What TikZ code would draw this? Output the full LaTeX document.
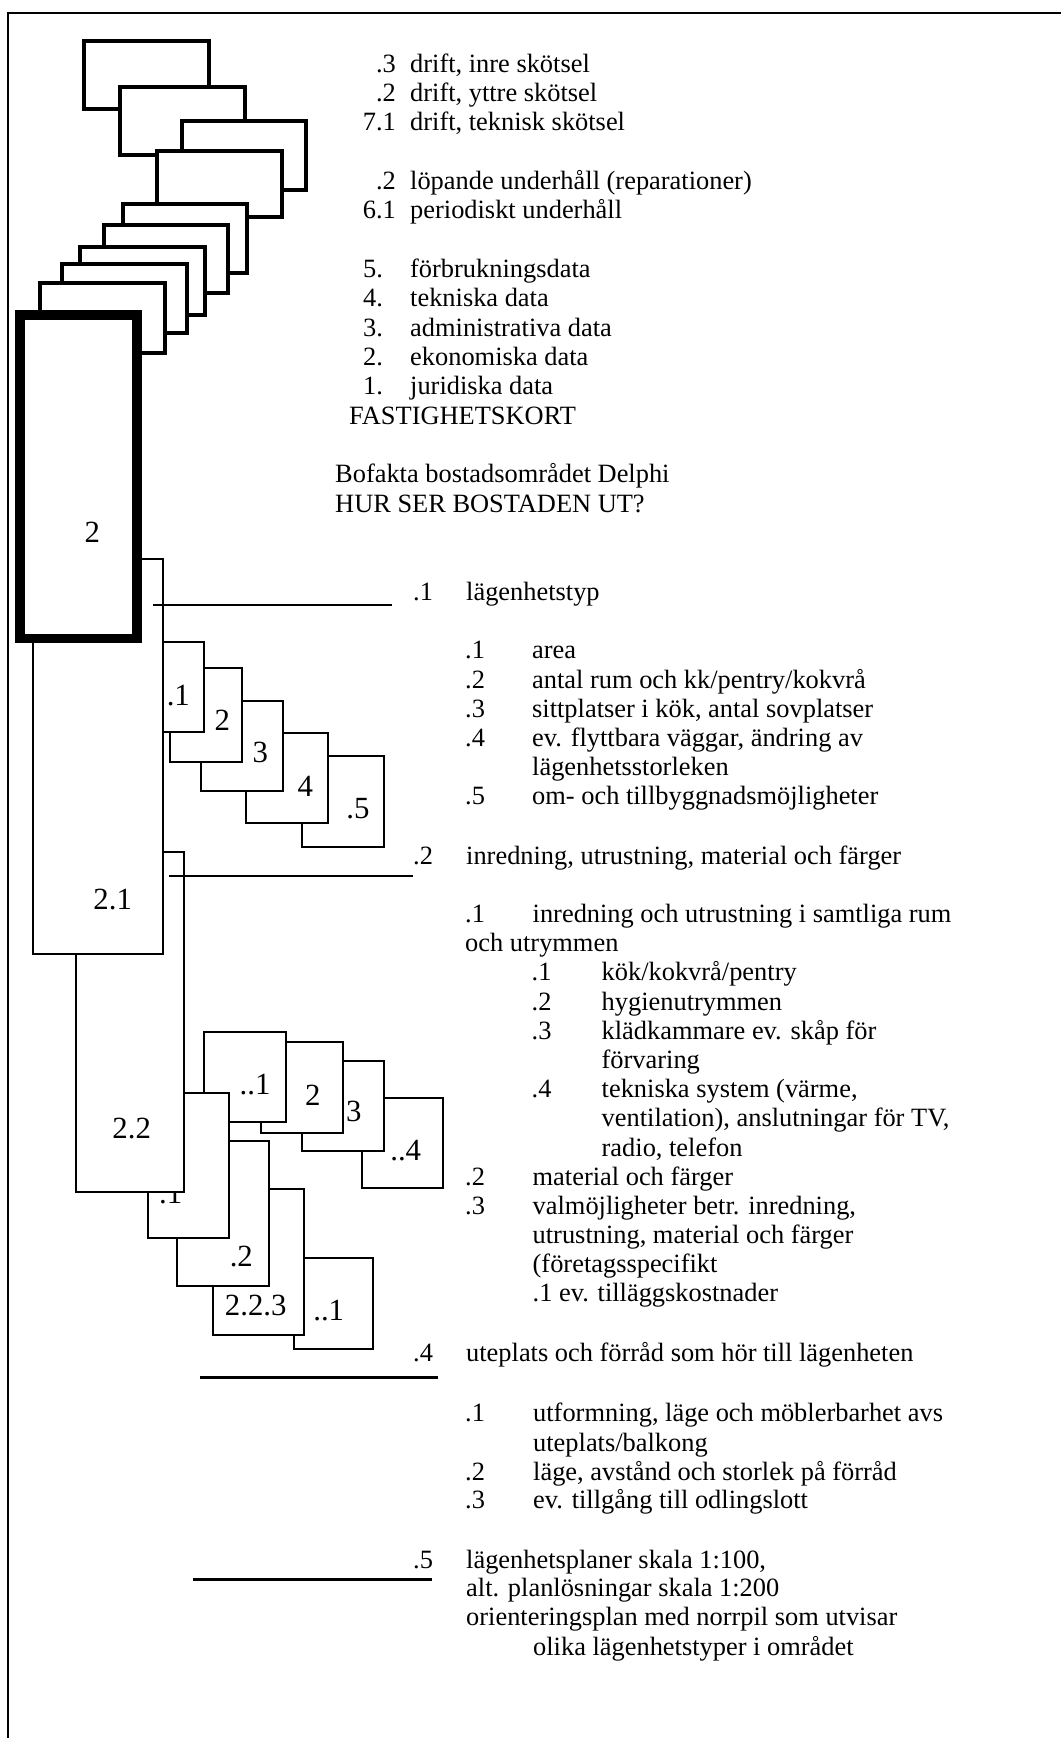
\documentclass[tikz,border=0pt]{standalone}
\usepackage{fontspec}
\setmainfont{Liberation Serif}
\usepackage{tikz}

\tikzset{
  card/.style={draw, fill=white, line width=4.5pt},
  maincard/.style={draw, fill=white, line width=9.5pt},
  leaf/.style={draw, fill=white, line width=2.2pt},
  lead/.style={line width=2.2pt},
  boldlead/.style={line width=3pt},
  txt/.style={anchor=base west, inner sep=0pt, font=\fontsize{26.4}{29}\selectfont},
  num/.style={anchor=base east, inner sep=0pt, font=\fontsize{26.4}{29}\selectfont},
  lbl/.style={anchor=base, inner sep=0pt, font=\fontsize{30.8}{34}\selectfont},
}

\begin{document}
\begin{tikzpicture}[x=1pt, y=-1pt]
\useasboundingbox (0,0) rectangle (1061,1738);

% frame (only top and left edge)
\draw[line width=2pt] (8,1738) -- (8,12.7) -- (1061,12.7);

% card stack 7.x / 6.x / 5. ... 1.
\foreach \xa/\ya/\xb/\yb in {84/41/209/109, 120/87/245/155, 182/121/306/190,
    157/151/282/217, 123/204/247/273, 104/225/228/293,
    80/247/205/315, 62/264/187/333, 40/283/165/353}
    \draw[card] (\xa,\ya) rectangle (\xb,\yb);

% 2.2 subtree, back to front
\foreach \xa/\ya/\xb/\yb/\lx/\ly/\t/\n in {
    294/1258/373/1349/328.7/1320/..1/b2231,
    213/1189/304/1335/255.7/1315.7/2.2.3/b223,
    177/1141/269/1286/241.3/1266.7/.2/b222,
    362/1098/443/1188/405.7/1160.7/..4/b2214,
    302/1061/384/1151/353.7/1121.7/3/b2213,
    261/1042/343/1133/312.7/1105/2/b2212,
    204/1032/286/1122/255/1094/..1/b2211,
    148/1093/229/1238/170.7/1203.3/.1/b221,
    76/852/184/1192/131.7/1138/2.2/b22}{
    \draw[leaf] (\xa,\ya) rectangle (\xb,\yb);
    \node[lbl] (\n) at (\lx,\ly) {\t};
}

% 2.1 subtree, back to front
\foreach \xa/\ya/\xb/\yb/\lx/\ly/\t/\n in {
    302/756/384/847/358/818.3/.5/b215,
    246/733/328/823/305.3/796/4/b214,
    201/701/283/791/260.3/762.7/3/b213,
    170/668/242/762/222.3/730.7/2/b212,
    163/642/204/732/178.3/705/.1/b211,
    33/559/163/954/112.7/909/2.1/b21}{
    \draw[leaf] (\xa,\ya) rectangle (\xb,\yb);
    \node[lbl] (\n) at (\lx,\ly) {\t};
}

% main card
\draw[maincard] (20.2,315) rectangle (137.2,638.3);
\node[lbl] (b2) at (92.2,542.3) {2};

% lead lines
\coordinate (l1a) at (153,605);  \coordinate (l1b) at (392,605);
\coordinate (l2a) at (169,876);  \coordinate (l2b) at (413,876);
\coordinate (l4a) at (200,1377); \coordinate (l4b) at (438,1377);
\coordinate (l5a) at (193,1579); \coordinate (l5b) at (432,1579);
\draw[lead] (l1a) -- (l1b);
\draw[lead] (l2a) -- (l2b);
\draw[boldlead] (l4a) -- (l4b);
\draw[boldlead] (l5a) -- (l5b);

% numbers, right aligned
\foreach \y/\t [count=\k] in {72.7/.3, 101.7/.2, 130.7/7.1, 189/.2, 218/6.1}
    \node[num] (n\k) at (396,\y) {\t};

% text lines
\foreach \x/\y/\t [count=\k] in {
    410/72.7/{drift, inre skötsel},
    410/101.7/{drift, yttre skötsel},
    410/130.7/{drift, teknisk skötsel},
    410/189/{löpande underhåll (reparationer)},
    410/218/{periodiskt underhåll},
    363/277.7/{5.}, 410/277.7/{förbrukningsdata},
    363/306.7/{4.}, 410/306.7/{tekniska data},
    363/336/{3.}, 410/336/{administrativa data},
    363/365/{2.}, 410/365/{ekonomiska data},
    363/394.3/{1.}, 410/394.3/{juridiska data},
    349/424/{FASTIGHETSKORT},
    335/482.7/{Bofakta bostadsområdet Delphi},
    335/512.7/{HUR SER BOSTADEN UT?},
    413/600/{.1}, 466/600/{lägenhetstyp},
    465/658/{.1}, 532/658/{area},
    465/688/{.2}, 532/688/{antal rum och kk\slash pentry\slash kokvrå},
    465/717/{.3}, 532/717/{sittplatser i kök, antal sovplatser},
    465/746/{.4}, 532/746/{ev. flyttbara väggar, ändring av},
    532/775/{lägenhetsstorleken},
    465/804/{.5}, 532/804/{om- och tillbyggnadsmöjligheter},
    413/864/{.2}, 466/864/{inredning, utrustning, material och färger},
    465/922.7/{.1}, 532.5/922.7/{inredning och utrustning i samtliga rum},
    465/951.7/{och utrymmen},
    531.5/980.7/{.1}, 601.5/980.7/{kök\slash kokvrå\slash pentry},
    531.5/1010/{.2}, 601.5/1010/{hygienutrymmen},
    531.5/1039/{.3}, 601.5/1039/{klädkammare ev. skåp för},
    601.5/1068/{förvaring},
    531.5/1097/{.4}, 601.5/1097/{tekniska system (värme,},
    601.5/1126.7/{ventilation), anslutningar för TV,},
    601.5/1156/{radio, telefon},
    465/1185/{.2}, 532.5/1185/{material och färger},
    465/1214/{.3}, 532.5/1214/{valmöjligheter betr. inredning,},
    532.5/1243/{utrustning, material och färger},
    532.5/1272/{(företagsspecifikt},
    532.5/1301.7/{.1 ev. tilläggskostnader},
    413/1361.7/{.4}, 466/1361.7/{uteplats och förråd som hör till lägenheten},
    465/1421.7/{.1}, 533/1421.7/{utformning, läge och möblerbarhet avs},
    533/1451.7/{uteplats\slash balkong},
    465/1480/{.2}, 533/1480/{läge, avstånd och storlek på förråd},
    465/1508/{.3}, 533/1508/{ev. tillgång till odlingslott},
    413/1568/{.5}, 466/1568/{lägenhetsplaner skala 1:100,},
    466/1596.7/{alt. planlösningar skala 1:200},
    466/1625/{orienteringsplan med norrpil som utvisar},
    533/1655/{olika lägenhetstyper i området}}
    \node[txt] (t\k) at (\x,\y) {\t};

\end{tikzpicture}
\end{document}
